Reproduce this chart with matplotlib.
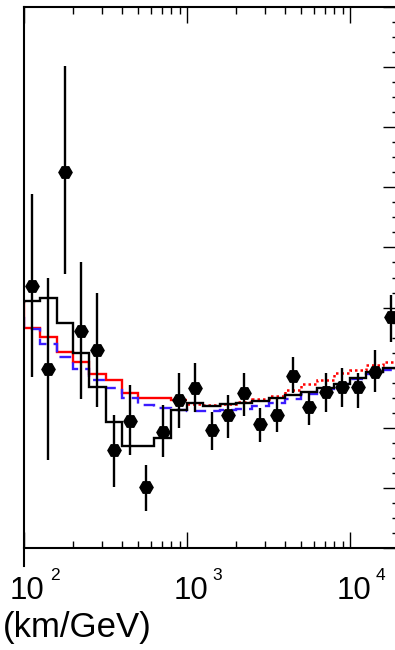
import matplotlib
matplotlib.use("Agg")
import matplotlib.pyplot as plt
import matplotlib.transforms as mtransforms
from matplotlib.ticker import MultipleLocator, LogLocator, NullFormatter

plt.rcParams['font.family'] = ['Liberation Sans', 'DejaVu Sans']

# L/E bin edges in km/GeV (0.1 steps in log10)
bin_edges = [79.43, 100.0, 125.9, 158.5, 199.5, 251.2, 316.2, 398.1, 501.2,
             631.0, 794.3, 1000.0, 1259.0, 1585.0, 1995.0, 2512.0, 3162.0,
             3981.0, 5012.0, 6310.0, 7943.0, 10000.0, 12589.0, 15849.0, 19953.0]

# expectation histograms, one value per bin
black_hist = [0.82, 0.823, 0.833, 0.750, 0.650, 0.537, 0.420, 0.340, 0.340, 0.367,
              0.460, 0.483, 0.473, 0.480, 0.483, 0.490, 0.500, 0.510, 0.520, 0.533,
              0.547, 0.567, 0.587, 0.600]
red_hist = [0.817, 0.733, 0.703, 0.653, 0.620, 0.580, 0.560, 0.517, 0.500, 0.500,
            0.493, 0.480, 0.477, 0.480, 0.487, 0.497, 0.507, 0.527, 0.547, 0.560,
            0.583, 0.593, 0.610, 0.620]
blue_hist = [0.780, 0.727, 0.680, 0.637, 0.597, 0.560, 0.533, 0.500, 0.477, 0.467,
             0.460, 0.457, 0.457, 0.460, 0.463, 0.473, 0.483, 0.497, 0.513, 0.530,
             0.547, 0.563, 0.580, 0.593]

# data points
le_points = [112.2, 141.3, 177.8, 223.9, 281.8, 354.8, 446.7, 562.3, 707.9, 891.3,
             1122.0, 1413.0, 1778.0, 2239.0, 2818.0, 3548.0, 4467.0, 5623.0, 7079.0,
             8913.0, 11220.0, 14125.0, 17783.0]
ratio = [0.873, 0.597, 1.250, 0.723, 0.660, 0.327, 0.423, 0.203, 0.387, 0.493,
         0.533, 0.393, 0.443, 0.517, 0.413, 0.443, 0.573, 0.470, 0.520, 0.537,
         0.537, 0.587, 0.767]
ratio_hi = [1.177, 0.900, 1.603, 0.950, 0.850, 0.443, 0.543, 0.277, 0.477, 0.583,
            0.617, 0.453, 0.510, 0.583, 0.467, 0.503, 0.637, 0.520, 0.583, 0.600,
            0.583, 0.660, 0.843]
ratio_lo = [0.570, 0.293, 0.910, 0.497, 0.470, 0.203, 0.310, 0.123, 0.303, 0.400,
            0.453, 0.327, 0.367, 0.440, 0.353, 0.387, 0.517, 0.410, 0.453, 0.470,
            0.467, 0.520, 0.687]

xtick_values = [100, 1000, 10000]
xtick_exponents = ['2', '3', '4']

fig = plt.figure(figsize=(3.95, 6.5), dpi=100)
ax = fig.add_axes([24 / 395, 102 / 650, 375 / 395, 541 / 650])

# red: solid below 10^3, dotted above
split = bin_edges.index(1000.0)
ax.stairs(red_hist[:split], bin_edges[:split + 1], baseline=None,
          color='red', lw=1.7, zorder=2)
ax.stairs(red_hist[split:], bin_edges[split:], baseline=None, color='red', lw=1.8,
          linestyle=(0, (1, 1.2)), zorder=2)
ax.stairs(blue_hist, bin_edges, baseline=None, color='#3a1cff', lw=1.7,
          linestyle=(0, (5, 3)), zorder=2)
ax.stairs(black_hist, bin_edges, baseline=None, color='black', lw=1.7, zorder=3)

yerr = [[r - lo for r, lo in zip(ratio, ratio_lo)],
        [hi - r for r, hi in zip(ratio, ratio_hi)]]
ax.errorbar(le_points, ratio, yerr=yerr, fmt='H', color='black', ms=9.5,
            elinewidth=1.7, capsize=0, zorder=4)

ax.set_xscale('log')
ax.set_xlim(100, 19953)
ax.set_ylim(0, 1.8)

ax.yaxis.set_major_locator(MultipleLocator(0.2))
ax.yaxis.set_minor_locator(MultipleLocator(0.05))
ax.xaxis.set_minor_locator(LogLocator(base=10, subs=range(2, 10)))
ax.xaxis.set_minor_formatter(NullFormatter())

ax.tick_params(axis='both', which='both', direction='in', width=1.0,
               labelbottom=False, labelleft=False, labelright=False,
               top=True, bottom=True, left=False, right=True)
ax.tick_params(which='major', length=11.5)
ax.tick_params(which='minor', length=5)

for s in ax.spines.values():
    s.set_linewidth(1.5)
ax.spines['left'].set_bounds(-0.06, 1.8)

# tick labels drawn as "10" plus a raised exponent
trans = ax.get_xaxis_transform()
base_tr = mtransforms.offset_copy(trans, fig=fig, x=2.5, y=0, units='points')
exp_tr = mtransforms.offset_copy(trans, fig=fig, x=18.5, y=13.5, units='points')
for v, e in zip(xtick_values, xtick_exponents):
    ax.text(v, -0.094, '10', ha='center', va='baseline', fontsize=22.5,
            transform=base_tr, clip_on=False)
    ax.text(v, -0.094, e, ha='left', va='baseline', fontsize=12.5,
            transform=exp_tr, clip_on=False)

fig.text(3 / 395, 13 / 650, '(km/GeV)', ha='left', va='baseline', fontsize=25)

fig.savefig('out.png', dpi=100)
